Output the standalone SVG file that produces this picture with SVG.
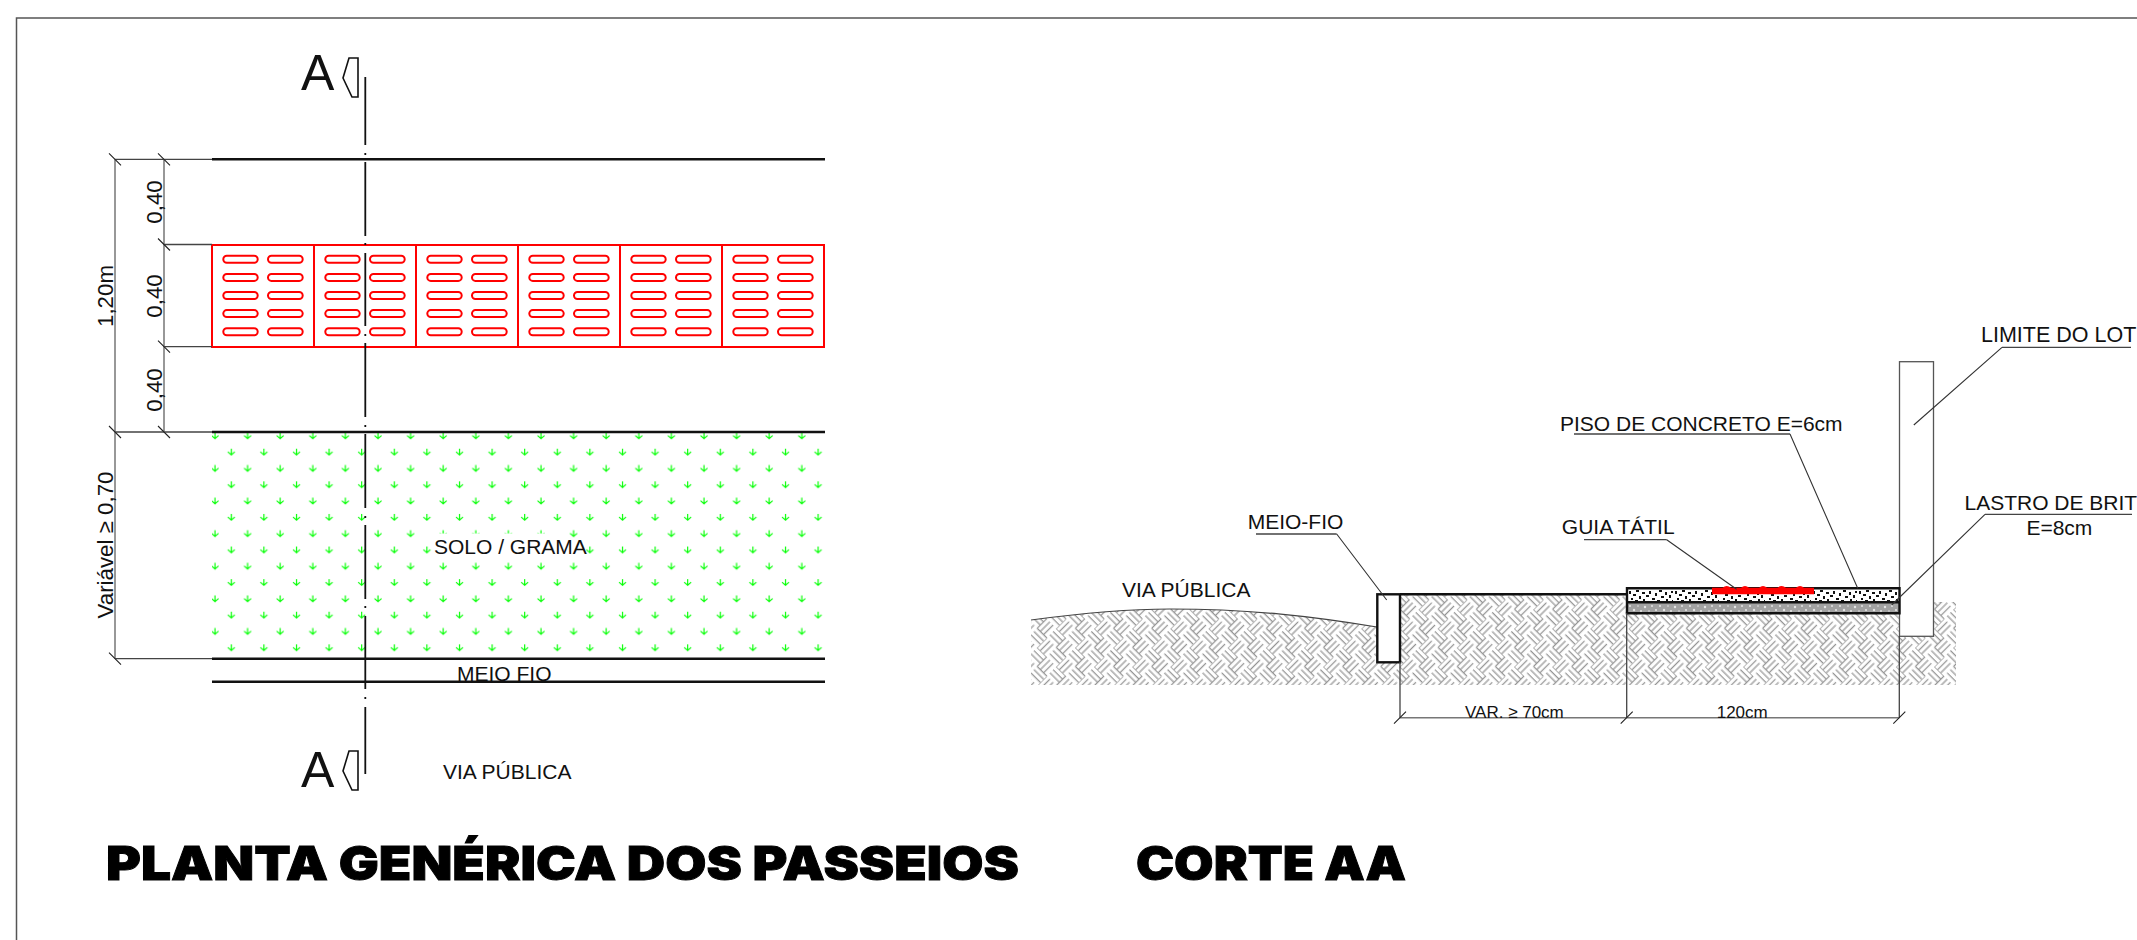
<svg xmlns="http://www.w3.org/2000/svg" xmlns:xlink="http://www.w3.org/1999/xlink" width="2137" height="940" viewBox="0 0 2137 940">
<style>
text{font-family:"Liberation Sans",Arial,sans-serif;fill:#111;font-size:21px}
.a{font-size:50px}
.d{font-size:17px}
.l{font-size:21.5px}
.r{font-size:22.3px}
.t{font-family:Inter,"Liberation Sans",sans-serif;font-weight:900;font-size:47px;fill:#000;stroke:#000;stroke-width:.9}
.h{stroke:#111;stroke-width:2.4;fill:none}
.c{stroke:#111;stroke-width:1.8;fill:none}
.dim{stroke:#777;stroke-width:1.5;fill:none}
.thin{stroke:#444;stroke-width:1.3;fill:none}
.tick{stroke:#222;stroke-width:1.1;fill:none}
.lead{stroke:#333;stroke-width:1.1;fill:none}
.ul{stroke:#444;stroke-width:1.3;fill:none}
.sym{stroke:#111;stroke-width:1.6;fill:#fff}
</style>
<defs>
<pattern id="grass" patternUnits="userSpaceOnUse" x="207" y="428" width="32.6" height="32.6">
<path d="M8 4.5V11M4.5 7.5L8 10.5L11.5 7.5" fill="none" stroke="#00ff00" stroke-width="1.15"/>
<path d="M24.3 20.8V27.3M20.8 23.8L24.3 26.8L27.8 23.8" fill="none" stroke="#00ff00" stroke-width="1.15"/>
</pattern>
<pattern id="weave" patternUnits="userSpaceOnUse" width="27" height="27" patternTransform="translate(1400 590) rotate(45)">
<rect width="27" height="27" fill="#fff"/>
<path d="M0 0H13.5M0 4.5H13.5M0 9H13.5M13.5 13.5H27M13.5 18H27M13.5 22.5H27M13.5 0V13.5M18 0V13.5M22.5 0V13.5M0 13.5V27M4.5 13.5V27M9 13.5V27" stroke="#959595" stroke-width="1.25" fill="none"/>
</pattern>
<pattern id="conc" patternUnits="userSpaceOnUse" x="1628" y="589" width="46" height="14">
<rect width="46" height="14" fill="#fff"/>
<g fill="#111">
<rect x="1" y="2" width="2" height="3"/><rect x="5" y="5" width="3" height="2"/><rect x="8" y="1" width="3" height="2"/><rect x="11" y="7" width="2" height="3"/><rect x="14" y="3" width="3" height="2"/><rect x="18" y="6" width="3" height="2"/><rect x="21" y="2" width="2" height="3"/><rect x="24" y="9" width="3" height="2"/><rect x="27" y="4" width="2" height="3"/><rect x="31" y="1" width="3" height="2"/><rect x="33" y="7" width="3" height="2"/><rect x="37" y="3" width="2" height="3"/><rect x="41" y="6" width="2" height="3"/><rect x="43" y="2" width="2" height="2"/><rect x="3" y="9" width="2" height="2"/><rect x="7" y="11" width="3" height="1"/><rect x="15" y="10" width="2" height="2"/><rect x="20" y="12" width="2" height="1"/><rect x="29" y="11" width="3" height="1"/><rect x="38" y="10" width="2" height="2"/><rect x="44" y="11" width="1" height="2"/>
</g>
</pattern>
<pattern id="brit" patternUnits="userSpaceOnUse" x="1628" y="603" width="30" height="11">
<rect width="30" height="11" fill="#a2a2a2"/>
<g fill="#e6e6e6">
<circle cx="2" cy="3" r="1"/><circle cx="6" cy="7" r="1.2"/><circle cx="10" cy="3" r=".8"/><circle cx="13" cy="8" r="1"/><circle cx="17" cy="4" r="1.2"/><circle cx="21" cy="8" r=".8"/><circle cx="24" cy="3" r="1"/><circle cx="28" cy="7" r="1.1"/>
</g>
</pattern>
<g id="slots">
<rect x="11.3" y="0" width="34.4" height="7" rx="3.5"/><rect x="56" y="0" width="34.7" height="7" rx="3.5"/>
<rect x="11.3" y="18.1" width="34.4" height="7" rx="3.5"/><rect x="56" y="18.1" width="34.7" height="7" rx="3.5"/>
<rect x="11.3" y="36.2" width="34.4" height="7" rx="3.5"/><rect x="56" y="36.2" width="34.7" height="7" rx="3.5"/>
<rect x="11.3" y="54.3" width="34.4" height="7" rx="3.5"/><rect x="56" y="54.3" width="34.7" height="7" rx="3.5"/>
<rect x="11.3" y="72.5" width="34.4" height="7" rx="3.5"/><rect x="56" y="72.5" width="34.7" height="7" rx="3.5"/>
</g>
</defs>
<rect width="2137" height="940" fill="#fff"/>
<path id="frame" d="M16.5 940V18H2137" fill="none" stroke="#555" stroke-width="1.5"/>

<g id="planta-grama">
<rect x="212" y="432" width="613" height="225" fill="url(#grass)"/>
<rect x="432" y="533.5" width="133" height="27" fill="#fff"/>
</g>
<g id="planta-piso" fill="none" stroke="#ff0000" stroke-width="2">
<rect x="212" y="245" width="612" height="102"/>
<path d="M314 245V347M416 245V347M518 245V347M620 245V347M722 245V347"/>
<use xlink:href="#slots" href="#slots" x="212" y="255.8"/>
<use xlink:href="#slots" href="#slots" x="314" y="255.8"/>
<use xlink:href="#slots" href="#slots" x="416" y="255.8"/>
<use xlink:href="#slots" href="#slots" x="518" y="255.8"/>
<use xlink:href="#slots" href="#slots" x="620" y="255.8"/>
<use xlink:href="#slots" href="#slots" x="722" y="255.8"/>
</g>
<g id="planta-linhas">
<path class="h" d="M212 159.3H825M212 432H825M212 658.7H825M212 681.7H825"/>
<path class="thin" d="M115 159.3H212M164 244.5H212M164 346.7H212M115 432H212M115 658.7H212"/>
<path class="dim" d="M115 159.3V658.7M164 159.3V432"/>
<path class="tick" d="M109 153.3L121 165.3M158 153.3L170 165.3M158 238.5L170 250.5M158 340.7L170 352.7M109 426L121 438M158 426L170 438M109 652.7L121 664.7"/>
<path id="corte-eixo" class="c" d="M365.3 77V145M365.3 153V155M365.3 162V236M365.3 243V245M365.3 253V326M365.3 334V336M365.3 343V417M365.3 425V427M365.3 434V508M365.3 516V518M365.3 525V599M365.3 606V608M365.3 616V689M365.3 697V699M365.3 707V774"/>
<path class="sym" d="M358 58H349L343 78L352 97H358Z"/>
<path class="sym" d="M358 751H349L343 771L352 790H358Z"/>
</g>
<g id="planta-textos">
<text class="a" x="301" y="90">A</text>
<text class="a" x="301" y="787">A</text>
<text class="r" transform="translate(161.5 202) rotate(-90)" text-anchor="middle">0,40</text>
<text class="r" transform="translate(161.5 296) rotate(-90)" text-anchor="middle">0,40</text>
<text class="r" transform="translate(161.5 390) rotate(-90)" text-anchor="middle">0,40</text>
<text class="r" transform="translate(113 296) rotate(-90)" text-anchor="middle">1,20m</text>
<text class="r" transform="translate(113 545) rotate(-90)" text-anchor="middle">Variável ≥ 0,70</text>
<text x="434" y="554">SOLO / GRAMA</text>
<text x="457" y="680.7">MEIO FIO</text>
<text x="443" y="779">VIA PÚBLICA</text>
</g>

<g id="corte-terreno">
<path d="M1031 620C1090 612 1130 609 1170 609C1250 609 1310 616 1377 627L1400 594.3H1627V613H1899V602H1956V685H1031Z" fill="url(#weave)"/>
<path d="M1031 620C1090 612 1130 609 1170 609C1250 609 1310 616 1377 627" fill="none" stroke="#444" stroke-width="1.2"/>
<path class="h" d="M1400 594.3H1627"/>
</g>
<g id="corte-muro">
<rect x="1899.5" y="361.7" width="34" height="274.6" fill="#fff" stroke="#555" stroke-width="1.3"/>
</g>
<g id="corte-meio-fio">
<rect x="1377.3" y="594.3" width="22.7" height="68" fill="#fff" stroke="#111" stroke-width="2.4"/>
</g>
<g id="corte-piso">
<rect x="1627" y="588.3" width="272.5" height="14" fill="url(#conc)"/>
<rect x="1627" y="602.3" width="272.5" height="11" fill="url(#brit)"/>
<path class="h" d="M1627 588.3H1899.5V613.3H1627ZM1627 602.3H1899.5"/>
<path d="M1712 594.3V587.8H1722.5Q1726.7 584 1731 587.8H1741Q1745 584 1749 587.8H1759Q1763 584 1767 587.8H1777.5Q1781.7 584 1786 587.8H1796Q1800 584 1804 587.8H1814V594.3Z" fill="#ff0000"/>
</g>
<g id="conectores">
<path class="thin" d="M1400 662V717.7M1626.7 613V717.7M1899.3 636V717.7"/>
<path class="dim" d="M1400 717.7H1899.3"/>
<path class="tick" d="M1394 723.7L1406 711.7M1620.7 723.7L1632.7 711.7M1893.3 723.7L1905.3 711.7"/>
<path class="ul" d="M1256 534H1336.7M1574 434H1790M1584 539.7H1666.7M1985 514.3H2132M2002 347.3H2131"/>
<path class="lead" d="M1336.7 534L1386.7 600M1790 434L1857.7 588.3M1666.7 539.7L1736.6 589.3M1985 514.3L1891.7 605M2002 347.3L1913.8 425"/>
</g>
<g id="corte-textos">
<text x="1122" y="597.3">VIA PÚBLICA</text>
<text x="1247.7" y="529.3">MEIO-FIO</text>
<text x="1560" y="431">PISO DE CONCRETO E=6cm</text>
<text x="1561.8" y="534">GUIA TÁTIL</text>
<text x="1964.5" y="509.5">LASTRO DE BRIT</text>
<text x="2026.4" y="534.7">E=8cm</text>
<text class="l" x="1981" y="342">LIMITE DO LOT</text>
<text class="d" x="1465" y="717.5">VAR. ≥ 70cm</text>
<text class="d" x="1716.7" y="717.5">120cm</text>
</g>
<g id="titulos">
<text class="t" x="106" y="880" textLength="913" lengthAdjust="spacingAndGlyphs">PLANTA GENÉRICA DOS PASSEIOS</text>
<text class="t" x="1136" y="880" textLength="270" lengthAdjust="spacingAndGlyphs">CORTE AA</text>
</g>
</svg>
